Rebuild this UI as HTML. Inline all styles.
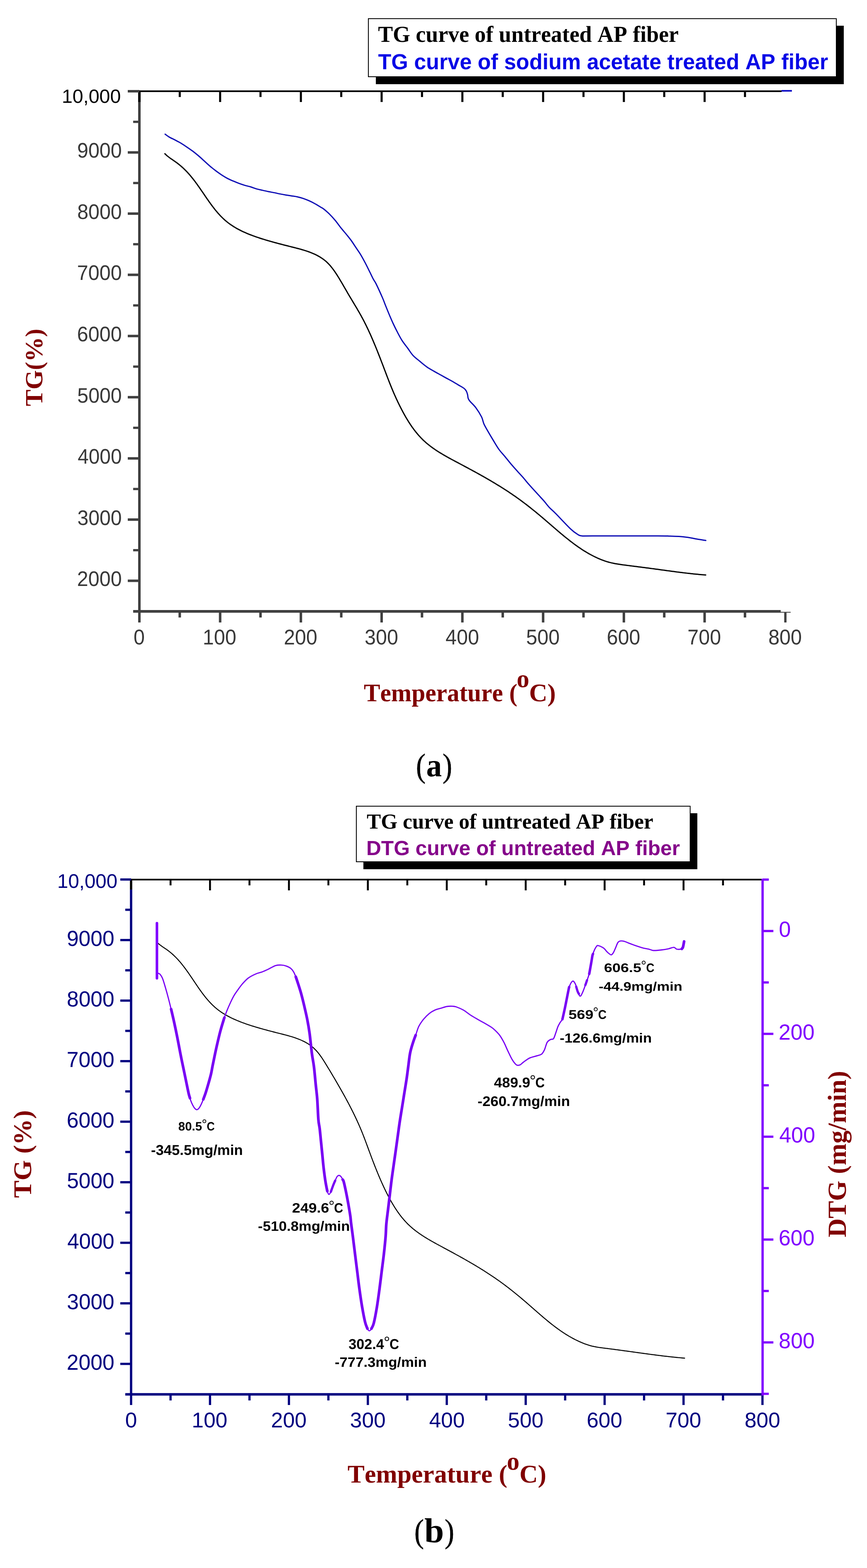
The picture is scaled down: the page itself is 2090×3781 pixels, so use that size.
<!DOCTYPE html>
<html><head><meta charset="utf-8"><title>TG / DTG curves of AP fiber</title>
<style>
html,body{margin:0;padding:0;background:#fff;}
svg{display:block;}
text{font-kerning:none;text-rendering:geometricPrecision;}
</style></head>
<body>
<svg width="2090" height="3781" viewBox="0 0 2090 3781">
<rect x="0" y="0" width="2090" height="3781" fill="#fff"/>
<rect x="906.00" y="62.00" width="1128.00" height="141.00" fill="#000"/>
<rect x="888.00" y="45.00" width="1128.00" height="140.00" fill="#fff" stroke="#000" stroke-width="2"/>
<text x="911.16" y="101.10" font-family="'Liberation Serif', 'Times New Roman', serif" font-weight="bold" font-size="55.30" textLength="724.80" lengthAdjust="spacingAndGlyphs" fill="#000">TG curve of untreated AP fiber</text>
<text x="911.42" y="166.80" font-family="'Liberation Sans', Arial, sans-serif" font-weight="bold" font-size="52.80" textLength="1084.87" lengthAdjust="spacingAndGlyphs" fill="#0808e6">TG curve of sodium acetate treated AP fiber</text>
<path d="M397.45,370.68 L399.75,372.94 L402.16,375.10 L404.65,377.16 L407.22,379.16 L409.85,381.09 L412.52,382.98 L415.21,384.85 L417.92,386.70 L420.62,388.55 L423.30,390.42 L425.94,392.33 L428.53,394.28 L431.08,396.27 L433.59,398.31 L436.05,400.38 L438.47,402.50 L440.85,404.66 L443.19,406.85 L445.49,409.08 L447.76,411.35 L449.99,413.66 L452.18,416.00 L454.35,418.37 L456.48,420.77 L458.58,423.21 L460.66,425.68 L462.71,428.18 L464.73,430.70 L466.73,433.26 L468.71,435.83 L470.67,438.43 L472.60,441.05 L474.53,443.68 L476.43,446.34 L478.33,449.01 L480.21,451.69 L482.08,454.38 L483.95,457.08 L485.81,459.79 L487.66,462.50 L489.51,465.21 L491.36,467.93 L493.21,470.65 L495.06,473.36 L496.92,476.07 L498.78,478.78 L500.65,481.47 L502.53,484.16 L504.42,486.83 L506.32,489.49 L508.23,492.14 L510.16,494.76 L512.11,497.37 L514.08,499.96 L516.07,502.52 L518.08,505.06 L520.11,507.57 L522.18,510.06 L524.27,512.51 L526.38,514.93 L528.53,517.31 L530.72,519.66 L532.94,521.97 L535.19,524.24 L537.48,526.47 L539.81,528.65 L542.19,530.79 L544.60,532.88 L547.06,534.93 L549.57,536.92 L552.13,538.85 L554.73,540.74 L557.37,542.58 L560.05,544.37 L562.77,546.12 L565.53,547.81 L568.32,549.47 L571.15,551.08 L574.01,552.64 L576.89,554.17 L579.81,555.66 L582.75,557.11 L585.72,558.52 L588.71,559.89 L591.72,561.23 L594.75,562.53 L597.79,563.81 L600.85,565.05 L603.92,566.26 L607.01,567.44 L610.10,568.59 L613.21,569.71 L616.31,570.81 L619.42,571.89 L622.54,572.94 L625.65,573.97 L628.77,574.98 L631.88,575.97 L634.98,576.94 L638.08,577.89 L641.17,578.82 L644.26,579.74 L647.35,580.64 L650.43,581.53 L653.52,582.41 L656.60,583.28 L659.68,584.13 L662.77,584.98 L665.85,585.81 L668.94,586.64 L672.03,587.45 L675.13,588.27 L678.23,589.07 L681.34,589.88 L684.45,590.68 L687.57,591.47 L690.70,592.27 L693.83,593.06 L696.98,593.86 L700.14,594.65 L703.31,595.45 L706.49,596.25 L709.67,597.06 L712.87,597.88 L716.07,598.71 L719.26,599.55 L722.46,600.42 L725.64,601.31 L728.82,602.22 L731.99,603.16 L735.15,604.14 L738.29,605.15 L741.40,606.19 L744.50,607.28 L747.57,608.42 L750.61,609.60 L753.62,610.83 L756.59,612.11 L759.53,613.45 L762.43,614.86 L765.29,616.32 L768.10,617.86 L770.86,619.46 L773.57,621.13 L776.23,622.88 L778.83,624.71 L781.37,626.62 L783.85,628.62 L786.26,630.71 L788.61,632.88 L790.90,635.13 L793.13,637.46 L795.30,639.85 L797.42,642.32 L799.48,644.84 L801.50,647.41 L803.48,650.03 L805.41,652.70 L807.30,655.40 L809.16,658.13 L810.98,660.89 L812.77,663.68 L814.53,666.47 L816.26,669.28 L817.98,672.09 L819.67,674.90 L821.34,677.71 L823.00,680.51 L824.65,683.31 L826.28,686.11 L827.91,688.91 L829.53,691.70 L831.14,694.49 L832.75,697.28 L834.36,700.07 L835.97,702.85 L837.59,705.64 L839.21,708.42 L840.84,711.20 L842.48,713.98 L844.13,716.75 L845.79,719.53 L847.45,722.31 L849.12,725.09 L850.79,727.87 L852.47,730.65 L854.14,733.44 L855.81,736.22 L857.48,739.02 L859.14,741.81 L860.79,744.61 L862.44,747.42 L864.08,750.24 L865.71,753.06 L867.32,755.88 L868.92,758.72 L870.51,761.56 L872.07,764.41 L873.62,767.28 L875.15,770.15 L876.66,773.03 L878.16,775.92 L879.63,778.82 L881.09,781.72 L882.53,784.64 L883.96,787.56 L885.37,790.49 L886.76,793.42 L888.14,796.36 L889.51,799.31 L890.86,802.27 L892.20,805.22 L893.53,808.19 L894.84,811.16 L896.14,814.13 L897.44,817.11 L898.72,820.09 L899.99,823.08 L901.25,826.07 L902.50,829.06 L903.74,832.05 L904.98,835.05 L906.20,838.05 L907.42,841.05 L908.63,844.05 L909.84,847.06 L911.04,850.07 L912.23,853.08 L913.42,856.10 L914.60,859.11 L915.78,862.13 L916.95,865.15 L918.12,868.18 L919.28,871.20 L920.45,874.23 L921.61,877.26 L922.77,880.30 L923.92,883.33 L925.08,886.37 L926.23,889.42 L927.38,892.46 L928.54,895.51 L929.69,898.56 L930.85,901.60 L932.00,904.65 L933.17,907.69 L934.33,910.74 L935.50,913.78 L936.68,916.81 L937.86,919.85 L939.05,922.87 L940.25,925.90 L941.45,928.91 L942.66,931.92 L943.89,934.92 L945.12,937.91 L946.37,940.89 L947.62,943.86 L948.89,946.82 L950.18,949.78 L951.47,952.73 L952.78,955.67 L954.11,958.61 L955.44,961.53 L956.80,964.46 L958.17,967.37 L959.56,970.29 L960.96,973.19 L962.38,976.10 L963.82,979.00 L965.28,981.89 L966.76,984.78 L968.25,987.67 L969.77,990.56 L971.31,993.44 L972.87,996.31 L974.45,999.18 L976.05,1002.04 L977.68,1004.88 L979.33,1007.72 L981.01,1010.54 L982.72,1013.34 L984.44,1016.13 L986.20,1018.90 L987.98,1021.65 L989.80,1024.38 L991.64,1027.08 L993.51,1029.77 L995.41,1032.43 L997.34,1035.06 L999.30,1037.66 L1001.30,1040.23 L1003.33,1042.77 L1005.39,1045.28 L1007.49,1047.76 L1009.62,1050.20 L1011.78,1052.60 L1013.99,1054.96 L1016.23,1057.29 L1018.50,1059.57 L1020.82,1061.81 L1023.17,1064.01 L1025.56,1066.16 L1027.99,1068.28 L1030.45,1070.35 L1032.94,1072.39 L1035.47,1074.39 L1038.03,1076.35 L1040.61,1078.28 L1043.23,1080.17 L1045.87,1082.04 L1048.53,1083.87 L1051.22,1085.68 L1053.93,1087.46 L1056.66,1089.21 L1059.41,1090.94 L1062.18,1092.65 L1064.97,1094.33 L1067.77,1096.00 L1070.59,1097.64 L1073.42,1099.27 L1076.26,1100.88 L1079.11,1102.48 L1081.97,1104.07 L1084.84,1105.64 L1087.71,1107.20 L1090.59,1108.75 L1093.47,1110.30 L1096.35,1111.84 L1099.23,1113.37 L1102.11,1114.90 L1104.99,1116.43 L1107.87,1117.96 L1110.74,1119.49 L1113.61,1121.01 L1116.48,1122.54 L1119.35,1124.07 L1122.21,1125.60 L1125.06,1127.13 L1127.92,1128.66 L1130.77,1130.20 L1133.62,1131.74 L1136.46,1133.28 L1139.31,1134.82 L1142.15,1136.37 L1144.98,1137.92 L1147.82,1139.48 L1150.65,1141.04 L1153.48,1142.61 L1156.30,1144.18 L1159.13,1145.76 L1161.95,1147.34 L1164.77,1148.93 L1167.58,1150.53 L1170.40,1152.14 L1173.21,1153.75 L1176.02,1155.37 L1178.83,1157.01 L1181.63,1158.64 L1184.43,1160.29 L1187.23,1161.95 L1190.02,1163.61 L1192.81,1165.29 L1195.59,1166.97 L1198.38,1168.66 L1201.15,1170.36 L1203.92,1172.08 L1206.69,1173.80 L1209.45,1175.53 L1212.20,1177.27 L1214.95,1179.02 L1217.69,1180.78 L1220.42,1182.55 L1223.15,1184.33 L1225.87,1186.12 L1228.58,1187.93 L1231.28,1189.74 L1233.98,1191.56 L1236.66,1193.40 L1239.34,1195.25 L1242.01,1197.10 L1244.67,1198.97 L1247.32,1200.86 L1249.96,1202.75 L1252.59,1204.65 L1255.21,1206.57 L1257.82,1208.50 L1260.43,1210.43 L1263.02,1212.38 L1265.60,1214.34 L1268.18,1216.31 L1270.75,1218.29 L1273.31,1220.28 L1275.86,1222.28 L1278.41,1224.28 L1280.95,1226.30 L1283.48,1228.33 L1286.00,1230.36 L1288.52,1232.40 L1291.03,1234.45 L1293.54,1236.51 L1296.04,1238.57 L1298.54,1240.64 L1301.03,1242.72 L1303.51,1244.80 L1306.00,1246.89 L1308.47,1248.99 L1310.95,1251.10 L1313.41,1253.20 L1315.88,1255.32 L1318.34,1257.44 L1320.80,1259.56 L1323.26,1261.68 L1325.72,1263.81 L1328.18,1265.93 L1330.64,1268.06 L1333.10,1270.19 L1335.56,1272.31 L1338.02,1274.43 L1340.49,1276.55 L1342.95,1278.67 L1345.43,1280.78 L1347.91,1282.89 L1350.39,1284.98 L1352.88,1287.08 L1355.37,1289.16 L1357.87,1291.24 L1360.38,1293.30 L1362.90,1295.36 L1365.43,1297.40 L1367.97,1299.43 L1370.51,1301.45 L1373.07,1303.46 L1375.64,1305.45 L1378.22,1307.43 L1380.81,1309.39 L1383.42,1311.33 L1386.04,1313.26 L1388.68,1315.17 L1391.33,1317.06 L1393.99,1318.92 L1396.67,1320.77 L1399.37,1322.59 L1402.08,1324.39 L1404.81,1326.17 L1407.55,1327.91 L1410.31,1329.63 L1413.09,1331.32 L1415.89,1332.98 L1418.70,1334.61 L1421.53,1336.20 L1424.38,1337.76 L1427.25,1339.28 L1430.13,1340.77 L1433.04,1342.22 L1435.96,1343.63 L1438.90,1345.00 L1441.86,1346.33 L1444.84,1347.61 L1447.84,1348.85 L1450.86,1350.05 L1453.90,1351.19 L1456.96,1352.29 L1460.04,1353.33 L1463.13,1354.32 L1466.24,1355.24 L1469.37,1356.11 L1472.51,1356.91 L1475.67,1357.64 L1478.84,1358.32 L1482.02,1358.95 L1485.21,1359.53 L1488.41,1360.08 L1491.62,1360.58 L1494.84,1361.06 L1498.05,1361.51 L1501.28,1361.95 L1504.50,1362.38 L1507.73,1362.80 L1510.95,1363.22 L1514.17,1363.63 L1517.40,1364.04 L1520.62,1364.46 L1523.85,1364.87 L1527.07,1365.28 L1530.29,1365.69 L1533.52,1366.10 L1536.74,1366.51 L1539.96,1366.92 L1543.18,1367.33 L1546.40,1367.74 L1549.63,1368.16 L1552.85,1368.57 L1556.07,1368.99 L1559.29,1369.41 L1562.51,1369.83 L1565.73,1370.26 L1568.95,1370.69 L1572.17,1371.12 L1575.39,1371.55 L1578.61,1371.99 L1581.82,1372.42 L1585.04,1372.86 L1588.26,1373.30 L1591.48,1373.74 L1594.70,1374.19 L1597.92,1374.63 L1601.14,1375.07 L1604.36,1375.51 L1607.58,1375.95 L1610.80,1376.38 L1614.02,1376.82 L1617.24,1377.25 L1620.46,1377.68 L1623.68,1378.11 L1626.90,1378.53 L1630.12,1378.95 L1633.34,1379.37 L1636.57,1379.78 L1639.79,1380.19 L1643.01,1380.59 L1646.24,1380.98 L1649.46,1381.37 L1652.69,1381.76 L1655.92,1382.13 L1659.14,1382.50 L1662.37,1382.86 L1665.60,1383.22 L1668.83,1383.56 L1672.07,1383.90 L1675.30,1384.23 L1678.53,1384.55 L1681.77,1384.86 L1685.00,1385.16 L1688.24,1385.45 L1691.48,1385.73 L1694.72,1386.00 L1697.96,1386.25 L1701.20,1386.50" fill="none" stroke="#000" stroke-width="3.0" stroke-linejoin="round" stroke-linecap="round"/>
<path d="M398.00,323.50 C399.68,324.68 404.08,328.25 408.10,330.60 C412.12,332.95 417.42,335.17 422.10,337.60 C426.78,340.03 431.52,342.40 436.20,345.20 C440.88,348.00 445.52,351.22 450.20,354.40 C454.88,357.58 459.62,360.78 464.30,364.30 C468.98,367.82 473.62,371.53 478.30,375.50 C482.98,379.47 487.72,383.88 492.40,388.10 C497.08,392.32 501.73,396.82 506.40,400.80 C511.07,404.78 515.72,408.48 520.40,412.00 C525.08,415.52 529.82,418.85 534.50,421.90 C539.18,424.95 543.82,427.83 548.50,430.30 C553.18,432.77 557.92,434.68 562.60,436.70 C567.28,438.72 571.92,440.67 576.60,442.40 C581.28,444.13 586.02,445.70 590.70,447.10 C595.38,448.50 600.02,449.38 604.70,450.80 C609.38,452.22 614.12,454.25 618.80,455.60 C623.48,456.95 628.12,457.83 632.80,458.90 C637.48,459.97 642.22,461.05 646.90,462.00 C651.58,462.95 656.23,463.67 660.90,464.60 C665.57,465.53 670.22,466.67 674.90,467.60 C679.58,468.53 684.32,469.40 689.00,470.20 C693.68,471.00 698.32,471.65 703.00,472.40 C707.68,473.15 712.42,473.67 717.10,474.70 C721.78,475.73 726.42,477.02 731.10,478.60 C735.78,480.18 740.52,482.10 745.20,484.20 C749.88,486.30 754.52,488.62 759.20,491.20 C763.88,493.78 769.83,497.60 773.30,499.70 C776.77,501.80 776.55,501.08 780.00,503.80 C783.45,506.52 789.32,511.38 794.00,516.00 C798.68,520.62 803.42,525.88 808.10,531.50 C812.78,537.12 817.42,543.85 822.10,549.70 C826.78,555.55 832.10,561.55 836.20,566.60 C840.30,571.65 843.07,574.95 846.70,580.00 C850.33,585.05 854.25,591.28 858.00,596.90 C861.75,602.52 865.47,607.53 869.20,613.70 C872.93,619.87 876.65,626.78 880.40,633.90 C884.15,641.02 888.43,649.83 891.70,656.40 C894.97,662.97 897.55,668.70 900.00,673.30 C902.45,677.90 902.73,676.55 906.40,684.00 C910.07,691.45 918.08,709.00 922.00,718.00 C925.92,727.00 927.08,731.00 929.90,738.00 C932.72,745.00 935.90,752.92 938.90,760.00 C941.90,767.08 944.72,773.68 947.90,780.50 C951.08,787.32 954.45,794.13 958.00,800.90 C961.55,807.67 965.02,814.58 969.20,821.10 C973.38,827.62 978.72,834.03 983.10,840.00 C987.48,845.97 990.62,851.65 995.50,856.90 C1000.38,862.15 1006.78,866.83 1012.40,871.50 C1018.02,876.17 1023.58,880.97 1029.20,884.90 C1034.82,888.83 1040.53,891.87 1046.10,895.10 C1051.67,898.33 1057.52,901.47 1062.60,904.30 C1067.68,907.13 1071.92,909.53 1076.60,912.10 C1081.28,914.67 1086.02,917.03 1090.70,919.70 C1095.38,922.37 1100.02,925.28 1104.70,928.10 C1109.38,930.92 1115.52,934.02 1118.80,936.60 C1122.08,939.18 1123.00,941.03 1124.40,943.60 C1125.80,946.17 1126.50,949.20 1127.20,952.00 C1127.90,954.80 1127.67,957.82 1128.60,960.40 C1129.53,962.98 1129.75,963.75 1132.80,967.50 C1135.85,971.25 1142.22,976.58 1146.90,982.90 C1151.58,989.22 1157.63,998.85 1160.90,1005.40 C1164.17,1011.95 1164.17,1016.82 1166.50,1022.20 C1168.83,1027.58 1171.15,1031.13 1174.90,1037.70 C1178.65,1044.27 1184.32,1053.88 1189.00,1061.60 C1193.68,1069.32 1198.35,1077.52 1203.00,1084.00 C1207.65,1090.48 1211.75,1094.28 1216.90,1100.50 C1222.05,1106.72 1228.63,1115.10 1233.90,1121.30 C1239.17,1127.50 1243.97,1132.65 1248.50,1137.70 C1253.03,1142.75 1256.88,1146.75 1261.10,1151.60 C1265.32,1156.45 1269.58,1161.95 1273.80,1166.80 C1278.02,1171.65 1282.20,1176.07 1286.40,1180.70 C1290.60,1185.33 1294.78,1189.97 1299.00,1194.60 C1303.22,1199.23 1307.48,1203.65 1311.70,1208.50 C1315.92,1213.35 1319.58,1218.65 1324.30,1223.70 C1329.02,1228.75 1331.45,1230.15 1340.00,1238.80 C1348.55,1247.45 1366.73,1267.23 1375.60,1275.60 C1384.47,1283.97 1388.68,1286.23 1393.20,1289.00 C1397.72,1291.77 1396.90,1291.67 1402.70,1292.20 C1408.50,1292.73 1397.45,1292.20 1428.00,1292.20 C1458.55,1292.20 1554.92,1292.10 1586.00,1292.20 C1617.08,1292.30 1605.55,1292.53 1614.50,1292.80 C1623.45,1293.07 1631.28,1293.12 1639.70,1293.80 C1648.12,1294.48 1658.15,1295.85 1665.00,1296.90 C1671.85,1297.95 1674.73,1299.03 1680.80,1300.10 C1686.87,1301.17 1697.97,1302.77 1701.40,1303.30" fill="none" stroke="#0b0bb4" stroke-width="3.0" stroke-linejoin="round" stroke-linecap="round"/>
<line x1="333.00" y1="220.00" x2="1884.00" y2="220.00" stroke="#000" stroke-width="4" stroke-linecap="butt"/>
<line x1="1884.00" y1="219.00" x2="1909.00" y2="219.00" stroke="#1414c8" stroke-width="4" stroke-linecap="butt"/>
<line x1="433.32" y1="222.00" x2="433.32" y2="234.00" stroke="#000" stroke-width="5" stroke-linecap="butt"/>
<line x1="530.65" y1="222.00" x2="530.65" y2="246.00" stroke="#000" stroke-width="5" stroke-linecap="butt"/>
<line x1="627.97" y1="222.00" x2="627.97" y2="234.00" stroke="#000" stroke-width="5" stroke-linecap="butt"/>
<line x1="725.30" y1="222.00" x2="725.30" y2="246.00" stroke="#000" stroke-width="5" stroke-linecap="butt"/>
<line x1="822.62" y1="222.00" x2="822.62" y2="234.00" stroke="#000" stroke-width="5" stroke-linecap="butt"/>
<line x1="919.95" y1="222.00" x2="919.95" y2="246.00" stroke="#000" stroke-width="5" stroke-linecap="butt"/>
<line x1="1017.27" y1="222.00" x2="1017.27" y2="234.00" stroke="#000" stroke-width="5" stroke-linecap="butt"/>
<line x1="1114.60" y1="222.00" x2="1114.60" y2="246.00" stroke="#000" stroke-width="5" stroke-linecap="butt"/>
<line x1="1211.92" y1="222.00" x2="1211.92" y2="234.00" stroke="#000" stroke-width="5" stroke-linecap="butt"/>
<line x1="1309.25" y1="222.00" x2="1309.25" y2="246.00" stroke="#000" stroke-width="5" stroke-linecap="butt"/>
<line x1="1406.58" y1="222.00" x2="1406.58" y2="234.00" stroke="#000" stroke-width="5" stroke-linecap="butt"/>
<line x1="1503.90" y1="222.00" x2="1503.90" y2="246.00" stroke="#000" stroke-width="5" stroke-linecap="butt"/>
<line x1="1601.22" y1="222.00" x2="1601.22" y2="234.00" stroke="#000" stroke-width="5" stroke-linecap="butt"/>
<line x1="1698.55" y1="222.00" x2="1698.55" y2="246.00" stroke="#000" stroke-width="5" stroke-linecap="butt"/>
<line x1="1795.88" y1="222.00" x2="1795.88" y2="234.00" stroke="#000" stroke-width="5" stroke-linecap="butt"/>
<line x1="336.00" y1="246.00" x2="336.00" y2="1477.50" stroke="#404040" stroke-width="6" stroke-linecap="butt"/>
<line x1="336.00" y1="218.00" x2="336.00" y2="246.00" stroke="#000" stroke-width="6" stroke-linecap="butt"/>
<line x1="308.00" y1="1400.48" x2="336.00" y2="1400.48" stroke="#404040" stroke-width="6" stroke-linecap="butt"/>
<line x1="321.00" y1="1326.70" x2="336.00" y2="1326.70" stroke="#404040" stroke-width="5.5" stroke-linecap="butt"/>
<line x1="308.00" y1="1252.92" x2="336.00" y2="1252.92" stroke="#404040" stroke-width="6" stroke-linecap="butt"/>
<line x1="321.00" y1="1179.14" x2="336.00" y2="1179.14" stroke="#404040" stroke-width="5.5" stroke-linecap="butt"/>
<line x1="308.00" y1="1105.36" x2="336.00" y2="1105.36" stroke="#404040" stroke-width="6" stroke-linecap="butt"/>
<line x1="321.00" y1="1031.58" x2="336.00" y2="1031.58" stroke="#404040" stroke-width="5.5" stroke-linecap="butt"/>
<line x1="308.00" y1="957.80" x2="336.00" y2="957.80" stroke="#404040" stroke-width="6" stroke-linecap="butt"/>
<line x1="321.00" y1="884.02" x2="336.00" y2="884.02" stroke="#404040" stroke-width="5.5" stroke-linecap="butt"/>
<line x1="308.00" y1="810.24" x2="336.00" y2="810.24" stroke="#404040" stroke-width="6" stroke-linecap="butt"/>
<line x1="321.00" y1="736.46" x2="336.00" y2="736.46" stroke="#404040" stroke-width="5.5" stroke-linecap="butt"/>
<line x1="308.00" y1="662.68" x2="336.00" y2="662.68" stroke="#404040" stroke-width="6" stroke-linecap="butt"/>
<line x1="321.00" y1="588.90" x2="336.00" y2="588.90" stroke="#404040" stroke-width="5.5" stroke-linecap="butt"/>
<line x1="308.00" y1="515.12" x2="336.00" y2="515.12" stroke="#404040" stroke-width="6" stroke-linecap="butt"/>
<line x1="321.00" y1="441.34" x2="336.00" y2="441.34" stroke="#404040" stroke-width="5.5" stroke-linecap="butt"/>
<line x1="308.00" y1="367.56" x2="336.00" y2="367.56" stroke="#404040" stroke-width="6" stroke-linecap="butt"/>
<line x1="321.00" y1="293.78" x2="336.00" y2="293.78" stroke="#404040" stroke-width="5.5" stroke-linecap="butt"/>
<line x1="308.00" y1="220.00" x2="336.00" y2="220.00" stroke="#404040" stroke-width="6" stroke-linecap="butt"/>
<line x1="321.00" y1="1474.30" x2="1882.00" y2="1474.30" stroke="#404040" stroke-width="6.5" stroke-linecap="butt"/>
<line x1="1882.00" y1="1476.40" x2="1906.00" y2="1476.40" stroke="#404040" stroke-width="2" stroke-linecap="butt"/>
<line x1="336.00" y1="1477.00" x2="336.00" y2="1501.00" stroke="#404040" stroke-width="6" stroke-linecap="butt"/>
<line x1="433.32" y1="1477.00" x2="433.32" y2="1489.00" stroke="#404040" stroke-width="6" stroke-linecap="butt"/>
<line x1="530.65" y1="1477.00" x2="530.65" y2="1501.00" stroke="#404040" stroke-width="6" stroke-linecap="butt"/>
<line x1="627.97" y1="1477.00" x2="627.97" y2="1489.00" stroke="#404040" stroke-width="6" stroke-linecap="butt"/>
<line x1="725.30" y1="1477.00" x2="725.30" y2="1501.00" stroke="#404040" stroke-width="6" stroke-linecap="butt"/>
<line x1="822.62" y1="1477.00" x2="822.62" y2="1489.00" stroke="#404040" stroke-width="6" stroke-linecap="butt"/>
<line x1="919.95" y1="1477.00" x2="919.95" y2="1501.00" stroke="#404040" stroke-width="6" stroke-linecap="butt"/>
<line x1="1017.27" y1="1477.00" x2="1017.27" y2="1489.00" stroke="#404040" stroke-width="6" stroke-linecap="butt"/>
<line x1="1114.60" y1="1477.00" x2="1114.60" y2="1501.00" stroke="#404040" stroke-width="6" stroke-linecap="butt"/>
<line x1="1211.92" y1="1477.00" x2="1211.92" y2="1489.00" stroke="#404040" stroke-width="6" stroke-linecap="butt"/>
<line x1="1309.25" y1="1477.00" x2="1309.25" y2="1501.00" stroke="#404040" stroke-width="6" stroke-linecap="butt"/>
<line x1="1406.58" y1="1477.00" x2="1406.58" y2="1489.00" stroke="#404040" stroke-width="6" stroke-linecap="butt"/>
<line x1="1503.90" y1="1477.00" x2="1503.90" y2="1501.00" stroke="#404040" stroke-width="6" stroke-linecap="butt"/>
<line x1="1601.22" y1="1477.00" x2="1601.22" y2="1489.00" stroke="#404040" stroke-width="6" stroke-linecap="butt"/>
<line x1="1698.55" y1="1477.00" x2="1698.55" y2="1501.00" stroke="#404040" stroke-width="6" stroke-linecap="butt"/>
<line x1="1795.88" y1="1477.00" x2="1795.88" y2="1489.00" stroke="#404040" stroke-width="6" stroke-linecap="butt"/>
<line x1="1893.20" y1="1477.00" x2="1893.20" y2="1501.00" stroke="#404040" stroke-width="5.6" stroke-linecap="butt"/>
<text x="148.95" y="247.60" font-family="'Liberation Sans', Arial, sans-serif" font-weight="normal" font-size="46.20" textLength="142.36" lengthAdjust="spacingAndGlyphs" fill="#000">10,000</text>
<text x="185.86" y="1413.28" font-family="'Liberation Sans', Arial, sans-serif" font-weight="normal" font-size="50.70" textLength="107.73" lengthAdjust="spacingAndGlyphs" fill="#383838">2000</text>
<text x="186.47" y="1265.72" font-family="'Liberation Sans', Arial, sans-serif" font-weight="normal" font-size="50.70" textLength="107.11" lengthAdjust="spacingAndGlyphs" fill="#383838">3000</text>
<text x="187.20" y="1118.16" font-family="'Liberation Sans', Arial, sans-serif" font-weight="normal" font-size="50.70" textLength="106.36" lengthAdjust="spacingAndGlyphs" fill="#383838">4000</text>
<text x="186.37" y="970.60" font-family="'Liberation Sans', Arial, sans-serif" font-weight="normal" font-size="50.70" textLength="107.21" lengthAdjust="spacingAndGlyphs" fill="#383838">5000</text>
<text x="185.84" y="823.04" font-family="'Liberation Sans', Arial, sans-serif" font-weight="normal" font-size="50.70" textLength="107.75" lengthAdjust="spacingAndGlyphs" fill="#383838">6000</text>
<text x="185.82" y="675.48" font-family="'Liberation Sans', Arial, sans-serif" font-weight="normal" font-size="50.70" textLength="107.78" lengthAdjust="spacingAndGlyphs" fill="#383838">7000</text>
<text x="186.20" y="527.92" font-family="'Liberation Sans', Arial, sans-serif" font-weight="normal" font-size="50.70" textLength="107.38" lengthAdjust="spacingAndGlyphs" fill="#383838">8000</text>
<text x="186.03" y="380.36" font-family="'Liberation Sans', Arial, sans-serif" font-weight="normal" font-size="50.70" textLength="107.55" lengthAdjust="spacingAndGlyphs" fill="#383838">9000</text>
<text x="322.04" y="1553.80" font-family="'Liberation Sans', Arial, sans-serif" font-weight="normal" font-size="51.50" textLength="26.92" lengthAdjust="spacingAndGlyphs" fill="#383838">0</text>
<text x="488.87" y="1553.80" font-family="'Liberation Sans', Arial, sans-serif" font-weight="normal" font-size="51.50" textLength="80.77" lengthAdjust="spacingAndGlyphs" fill="#383838">100</text>
<text x="684.14" y="1553.80" font-family="'Liberation Sans', Arial, sans-serif" font-weight="normal" font-size="51.50" textLength="80.77" lengthAdjust="spacingAndGlyphs" fill="#383838">200</text>
<text x="879.09" y="1553.80" font-family="'Liberation Sans', Arial, sans-serif" font-weight="normal" font-size="51.50" textLength="80.77" lengthAdjust="spacingAndGlyphs" fill="#383838">300</text>
<text x="1074.11" y="1553.80" font-family="'Liberation Sans', Arial, sans-serif" font-weight="normal" font-size="51.50" textLength="80.77" lengthAdjust="spacingAndGlyphs" fill="#383838">400</text>
<text x="1268.34" y="1553.80" font-family="'Liberation Sans', Arial, sans-serif" font-weight="normal" font-size="51.50" textLength="80.77" lengthAdjust="spacingAndGlyphs" fill="#383838">500</text>
<text x="1462.73" y="1553.80" font-family="'Liberation Sans', Arial, sans-serif" font-weight="normal" font-size="51.50" textLength="80.77" lengthAdjust="spacingAndGlyphs" fill="#383838">600</text>
<text x="1657.37" y="1553.80" font-family="'Liberation Sans', Arial, sans-serif" font-weight="normal" font-size="51.50" textLength="80.77" lengthAdjust="spacingAndGlyphs" fill="#383838">700</text>
<text x="1852.21" y="1553.80" font-family="'Liberation Sans', Arial, sans-serif" font-weight="normal" font-size="51.50" textLength="80.77" lengthAdjust="spacingAndGlyphs" fill="#383838">800</text>
<text x="877.07" y="1691.00" font-family="'Liberation Serif', 'Times New Roman', serif" font-weight="bold" font-size="61.00" textLength="370.13" lengthAdjust="spacingAndGlyphs" fill="#800000">Temperature (</text>
<text x="1245.58" y="1657.20" font-family="'Liberation Serif', 'Times New Roman', serif" font-weight="bold" font-size="61.00" textLength="30.44" lengthAdjust="spacingAndGlyphs" fill="#800000">o</text>
<text x="1275.52" y="1691.00" font-family="'Liberation Serif', 'Times New Roman', serif" font-weight="bold" font-size="61.00" textLength="64.36" lengthAdjust="spacingAndGlyphs" fill="#800000">C)</text>
<text transform="rotate(-90)" x="-979.44" y="102.00" font-family="'Liberation Serif', 'Times New Roman', serif" font-weight="bold" font-size="59.60" textLength="187.08" lengthAdjust="spacingAndGlyphs" fill="#800000">TG(%)</text>
<text x="1002.72" y="1872.90" font-family="'Liberation Serif', 'Times New Roman', serif" font-weight="normal" font-size="80.50" textLength="23.34" lengthAdjust="spacingAndGlyphs" fill="#000" stroke="#000" stroke-width="0.6">(</text>
<text x="1027.48" y="1872.00" font-family="'Liberation Serif', 'Times New Roman', serif" font-weight="bold" font-size="79.00" textLength="37.56" lengthAdjust="spacingAndGlyphs" fill="#000">a</text>
<text x="1066.74" y="1872.90" font-family="'Liberation Serif', 'Times New Roman', serif" font-weight="normal" font-size="80.50" textLength="23.34" lengthAdjust="spacingAndGlyphs" fill="#000" stroke="#000" stroke-width="0.6">)</text>
<rect x="876.00" y="1961.00" width="805.00" height="135.00" fill="#000"/>
<rect x="859.00" y="1944.00" width="804.70" height="134.00" fill="#fff" stroke="#000" stroke-width="2"/>
<text x="884.00" y="1998.00" font-family="'Liberation Serif', 'Times New Roman', serif" font-weight="bold" font-size="51.50" textLength="690.80" lengthAdjust="spacingAndGlyphs" fill="#000">TG curve of untreated AP fiber</text>
<text x="882.98" y="2061.60" font-family="'Liberation Sans', Arial, sans-serif" font-weight="bold" font-size="49.40" textLength="756.07" lengthAdjust="spacingAndGlyphs" fill="#85068a">DTG curve of untreated AP fiber</text>
<path d="M381.34,2274.86 L383.71,2276.91 L386.18,2278.87 L388.73,2280.76 L391.34,2282.61 L393.98,2284.42 L396.65,2286.22 L399.31,2288.02 L401.95,2289.85 L404.54,2291.71 L407.08,2293.63 L409.58,2295.59 L412.02,2297.59 L414.42,2299.64 L416.77,2301.73 L419.08,2303.86 L421.34,2306.03 L423.57,2308.24 L425.76,2310.48 L427.91,2312.77 L430.03,2315.08 L432.12,2317.43 L434.17,2319.82 L436.20,2322.23 L438.20,2324.67 L440.17,2327.14 L442.12,2329.63 L444.05,2332.15 L445.96,2334.69 L447.85,2337.26 L449.72,2339.84 L451.58,2342.43 L453.42,2345.05 L455.25,2347.67 L457.07,2350.31 L458.89,2352.96 L460.69,2355.61 L462.49,2358.28 L464.28,2360.94 L466.08,2363.61 L467.87,2366.28 L469.66,2368.95 L471.46,2371.61 L473.26,2374.27 L475.06,2376.93 L476.87,2379.58 L478.70,2382.21 L480.53,2384.84 L482.37,2387.45 L484.23,2390.05 L486.11,2392.62 L488.00,2395.18 L489.91,2397.72 L491.85,2400.24 L493.80,2402.73 L495.78,2405.20 L497.78,2407.64 L499.81,2410.05 L501.88,2412.43 L503.97,2414.77 L506.09,2417.08 L508.25,2419.35 L510.44,2421.59 L512.67,2423.78 L514.94,2425.93 L517.24,2428.04 L519.59,2430.10 L521.99,2432.11 L524.43,2434.08 L526.91,2435.99 L529.44,2437.86 L532.01,2439.67 L534.62,2441.45 L537.27,2443.17 L539.95,2444.85 L542.67,2446.49 L545.43,2448.09 L548.21,2449.64 L551.02,2451.16 L553.86,2452.63 L556.73,2454.07 L559.62,2455.47 L562.53,2456.84 L565.47,2458.17 L568.42,2459.47 L571.39,2460.73 L574.37,2461.97 L577.37,2463.17 L580.37,2464.35 L583.39,2465.50 L586.42,2466.62 L589.45,2467.71 L592.48,2468.78 L595.52,2469.83 L598.56,2470.85 L601.60,2471.86 L604.63,2472.84 L607.66,2473.81 L610.69,2474.75 L613.71,2475.68 L616.73,2476.59 L619.74,2477.49 L622.75,2478.38 L625.76,2479.25 L628.77,2480.11 L631.78,2480.95 L634.79,2481.79 L637.80,2482.62 L640.82,2483.43 L643.84,2484.24 L646.86,2485.05 L649.89,2485.85 L652.92,2486.64 L655.97,2487.43 L659.02,2488.22 L662.07,2489.00 L665.14,2489.79 L668.22,2490.57 L671.30,2491.35 L674.40,2492.14 L677.52,2492.93 L680.64,2493.73 L683.76,2494.53 L686.90,2495.35 L690.03,2496.18 L693.16,2497.03 L696.28,2497.90 L699.40,2498.80 L702.51,2499.72 L705.60,2500.68 L708.67,2501.67 L711.73,2502.69 L714.76,2503.76 L717.77,2504.87 L720.75,2506.03 L723.70,2507.23 L726.61,2508.49 L729.49,2509.80 L732.33,2511.18 L735.12,2512.61 L737.87,2514.11 L740.57,2515.68 L743.22,2517.32 L745.81,2519.03 L748.35,2520.82 L750.82,2522.69 L753.23,2524.65 L755.58,2526.69 L757.86,2528.82 L760.07,2531.03 L762.23,2533.31 L764.33,2535.66 L766.37,2538.08 L768.37,2540.56 L770.32,2543.09 L772.23,2545.66 L774.10,2548.28 L775.93,2550.93 L777.73,2553.61 L779.50,2556.32 L781.24,2559.05 L782.96,2561.79 L784.66,2564.54 L786.35,2567.29 L788.02,2570.04 L789.69,2572.78 L791.34,2575.52 L792.99,2578.25 L794.62,2580.97 L796.25,2583.69 L797.88,2586.41 L799.50,2589.12 L801.11,2591.83 L802.71,2594.55 L804.32,2597.26 L805.91,2599.97 L807.51,2602.69 L809.10,2605.41 L810.69,2608.13 L812.28,2610.86 L813.86,2613.59 L815.44,2616.33 L817.02,2619.07 L818.60,2621.82 L820.17,2624.57 L821.74,2627.32 L823.30,2630.08 L824.86,2632.84 L826.41,2635.61 L827.95,2638.39 L829.50,2641.16 L831.03,2643.95 L832.56,2646.73 L834.08,2649.53 L835.60,2652.32 L837.10,2655.12 L838.60,2657.93 L840.09,2660.74 L841.58,2663.56 L843.05,2666.38 L844.51,2669.20 L845.97,2672.03 L847.41,2674.87 L848.85,2677.71 L850.27,2680.56 L851.69,2683.41 L853.09,2686.26 L854.48,2689.13 L855.86,2691.99 L857.23,2694.86 L858.58,2697.74 L859.92,2700.62 L861.25,2703.51 L862.56,2706.40 L863.87,2709.30 L865.15,2712.20 L866.42,2715.11 L867.68,2718.02 L868.92,2720.94 L870.15,2723.87 L871.36,2726.80 L872.56,2729.73 L873.74,2732.67 L874.91,2735.62 L876.06,2738.57 L877.21,2741.52 L878.35,2744.48 L879.47,2747.44 L880.59,2750.41 L881.70,2753.37 L882.81,2756.35 L883.91,2759.32 L885.01,2762.29 L886.11,2765.27 L887.21,2768.25 L888.30,2771.23 L889.40,2774.22 L890.50,2777.20 L891.60,2780.18 L892.71,2783.17 L893.82,2786.15 L894.94,2789.14 L896.06,2792.12 L897.19,2795.10 L898.32,2798.08 L899.46,2801.06 L900.61,2804.03 L901.76,2807.01 L902.92,2809.97 L904.08,2812.94 L905.25,2815.89 L906.43,2818.85 L907.62,2821.79 L908.81,2824.73 L910.01,2827.67 L911.21,2830.59 L912.43,2833.51 L913.65,2836.42 L914.88,2839.33 L916.12,2842.22 L917.37,2845.12 L918.63,2848.00 L919.91,2850.88 L921.19,2853.75 L922.50,2856.62 L923.81,2859.49 L925.14,2862.35 L926.49,2865.20 L927.85,2868.05 L929.23,2870.90 L930.63,2873.74 L932.04,2876.58 L933.48,2879.42 L934.94,2882.25 L936.41,2885.08 L937.91,2887.91 L939.43,2890.72 L940.97,2893.53 L942.54,2896.33 L944.13,2899.11 L945.75,2901.89 L947.38,2904.65 L949.05,2907.39 L950.74,2910.12 L952.46,2912.83 L954.21,2915.51 L955.98,2918.18 L957.79,2920.83 L959.62,2923.45 L961.48,2926.04 L963.37,2928.61 L965.30,2931.15 L967.26,2933.67 L969.24,2936.15 L971.27,2938.59 L973.32,2941.01 L975.41,2943.39 L977.54,2945.73 L979.70,2948.04 L981.90,2950.31 L984.13,2952.53 L986.40,2954.72 L988.71,2956.86 L991.05,2958.96 L993.43,2961.02 L995.84,2963.05 L998.29,2965.04 L1000.76,2966.99 L1003.26,2968.91 L1005.79,2970.80 L1008.35,2972.65 L1010.93,2974.48 L1013.54,2976.28 L1016.16,2978.05 L1018.81,2979.79 L1021.48,2981.52 L1024.17,2983.21 L1026.88,2984.89 L1029.60,2986.54 L1032.33,2988.18 L1035.08,2989.80 L1037.84,2991.40 L1040.62,2992.99 L1043.40,2994.56 L1046.19,2996.12 L1048.98,2997.67 L1051.79,2999.21 L1054.59,3000.74 L1057.40,3002.27 L1060.21,3003.79 L1063.02,3005.30 L1065.83,3006.81 L1068.64,3008.32 L1071.45,3009.83 L1074.25,3011.34 L1077.05,3012.85 L1079.84,3014.36 L1082.63,3015.87 L1085.42,3017.38 L1088.21,3018.89 L1090.99,3020.40 L1093.78,3021.92 L1096.55,3023.44 L1099.33,3024.96 L1102.10,3026.48 L1104.87,3028.01 L1107.64,3029.54 L1110.40,3031.08 L1113.17,3032.62 L1115.92,3034.17 L1118.68,3035.72 L1121.44,3037.28 L1124.19,3038.85 L1126.94,3040.42 L1129.68,3042.00 L1132.43,3043.59 L1135.17,3045.19 L1137.91,3046.79 L1140.64,3048.40 L1143.38,3050.02 L1146.11,3051.65 L1148.83,3053.29 L1151.55,3054.94 L1154.27,3056.59 L1156.99,3058.26 L1159.69,3059.93 L1162.40,3061.62 L1165.10,3063.31 L1167.79,3065.01 L1170.48,3066.72 L1173.16,3068.44 L1175.83,3070.17 L1178.50,3071.92 L1181.16,3073.67 L1183.82,3075.43 L1186.47,3077.20 L1189.11,3078.98 L1191.74,3080.77 L1194.36,3082.57 L1196.98,3084.39 L1199.58,3086.21 L1202.18,3088.05 L1204.77,3089.89 L1207.35,3091.75 L1209.92,3093.62 L1212.48,3095.50 L1215.03,3097.39 L1217.57,3099.29 L1220.10,3101.20 L1222.62,3103.12 L1225.14,3105.05 L1227.65,3106.99 L1230.15,3108.94 L1232.64,3110.91 L1235.12,3112.87 L1237.60,3114.85 L1240.07,3116.84 L1242.53,3118.83 L1244.99,3120.84 L1247.44,3122.85 L1249.88,3124.87 L1252.32,3126.90 L1254.76,3128.93 L1257.19,3130.97 L1259.61,3133.02 L1262.03,3135.08 L1264.44,3137.14 L1266.85,3139.21 L1269.26,3141.28 L1271.66,3143.36 L1274.06,3145.45 L1276.45,3147.54 L1278.85,3149.63 L1281.24,3151.73 L1283.63,3153.83 L1286.02,3155.93 L1288.41,3158.03 L1290.81,3160.13 L1293.20,3162.22 L1295.60,3164.32 L1298.00,3166.41 L1300.40,3168.50 L1302.81,3170.58 L1305.22,3172.66 L1307.63,3174.73 L1310.05,3176.79 L1312.48,3178.85 L1314.92,3180.89 L1317.36,3182.93 L1319.81,3184.96 L1322.27,3186.97 L1324.74,3188.97 L1327.22,3190.96 L1329.71,3192.94 L1332.21,3194.90 L1334.73,3196.84 L1337.25,3198.77 L1339.79,3200.68 L1342.35,3202.57 L1344.91,3204.44 L1347.50,3206.29 L1350.09,3208.13 L1352.70,3209.94 L1355.33,3211.72 L1357.98,3213.49 L1360.64,3215.22 L1363.31,3216.94 L1366.00,3218.62 L1368.71,3220.28 L1371.44,3221.91 L1374.18,3223.51 L1376.94,3225.08 L1379.72,3226.61 L1382.52,3228.12 L1385.33,3229.59 L1388.16,3231.03 L1391.01,3232.43 L1393.88,3233.79 L1396.77,3235.12 L1399.68,3236.41 L1402.61,3237.65 L1405.56,3238.86 L1408.52,3240.02 L1411.51,3241.14 L1414.51,3242.19 L1417.53,3243.19 L1420.57,3244.13 L1423.62,3245.00 L1426.69,3245.80 L1429.78,3246.52 L1432.88,3247.18 L1435.99,3247.79 L1439.11,3248.34 L1442.25,3248.85 L1445.38,3249.32 L1448.53,3249.76 L1451.68,3250.18 L1454.83,3250.58 L1457.99,3250.98 L1461.14,3251.38 L1464.30,3251.77 L1467.45,3252.17 L1470.61,3252.58 L1473.76,3252.99 L1476.91,3253.40 L1480.06,3253.81 L1483.21,3254.22 L1486.36,3254.64 L1489.51,3255.06 L1492.66,3255.48 L1495.81,3255.91 L1498.96,3256.33 L1502.11,3256.76 L1505.26,3257.19 L1508.41,3257.62 L1511.55,3258.05 L1514.70,3258.48 L1517.85,3258.92 L1521.00,3259.35 L1524.14,3259.79 L1527.29,3260.22 L1530.44,3260.66 L1533.59,3261.10 L1536.73,3261.53 L1539.88,3261.97 L1543.03,3262.40 L1546.18,3262.84 L1549.33,3263.27 L1552.48,3263.70 L1555.62,3264.13 L1558.77,3264.56 L1561.92,3264.98 L1565.07,3265.40 L1568.22,3265.82 L1571.37,3266.24 L1574.52,3266.65 L1577.68,3267.06 L1580.83,3267.47 L1583.98,3267.87 L1587.13,3268.27 L1590.29,3268.66 L1593.44,3269.05 L1596.59,3269.44 L1599.75,3269.82 L1602.91,3270.19 L1606.06,3270.56 L1609.22,3270.92 L1612.38,3271.27 L1615.54,3271.62 L1618.70,3271.97 L1621.86,3272.30 L1625.02,3272.63 L1628.18,3272.95 L1631.34,3273.26 L1634.51,3273.57 L1637.67,3273.87 L1640.84,3274.15 L1644.00,3274.43 L1647.17,3274.71 L1650.34,3274.97" fill="none" stroke="#000" stroke-width="2.4" stroke-linejoin="round" stroke-linecap="round"/>
<path d="M381.60,2347.10 C382.38,2347.57 384.57,2347.78 386.30,2349.90 C388.03,2352.02 389.88,2354.42 392.00,2359.80 C394.12,2365.18 396.67,2374.25 399.00,2382.20 C401.33,2390.15 403.67,2398.60 406.00,2407.50 C408.33,2416.40 410.65,2425.77 413.00,2435.60 C415.35,2445.43 417.75,2455.73 420.10,2466.50 C422.45,2477.27 424.77,2488.50 427.10,2500.20 C429.43,2511.90 432.12,2526.55 434.10,2536.70 C436.08,2546.85 437.30,2552.83 439.00,2561.10 C440.70,2569.37 442.55,2577.88 444.30,2586.30 C446.05,2594.72 447.75,2603.17 449.50,2611.60 C451.25,2620.03 453.22,2630.22 454.80,2636.90 C456.38,2643.58 457.42,2647.13 459.00,2651.70 C460.58,2656.27 462.53,2660.80 464.30,2664.30 C466.07,2667.80 467.85,2670.77 469.60,2672.70 C471.35,2674.63 473.05,2676.07 474.80,2675.90 C476.55,2675.73 478.33,2673.98 480.10,2671.70 C481.87,2669.42 483.65,2665.90 485.40,2662.20 C487.15,2658.50 488.85,2654.07 490.60,2649.50 C492.35,2644.93 493.97,2640.77 495.90,2634.80 C497.83,2628.83 500.10,2621.07 502.20,2613.70 C504.30,2606.33 506.78,2597.88 508.50,2590.60 C510.22,2583.32 511.08,2577.10 512.50,2570.00 C513.92,2562.90 515.32,2556.00 517.00,2548.00 C518.68,2540.00 520.27,2532.17 522.60,2522.00 C524.93,2511.83 528.20,2497.58 531.00,2487.00 C533.80,2476.42 536.82,2466.60 539.40,2458.50 C541.98,2450.40 543.68,2445.48 546.50,2438.40 C549.32,2431.32 553.30,2422.40 556.30,2416.00 C559.30,2409.60 561.73,2404.72 564.50,2400.00 C567.27,2395.28 569.68,2392.18 572.90,2387.70 C576.12,2383.22 579.55,2377.97 583.80,2373.10 C588.05,2368.23 592.92,2362.60 598.40,2358.50 C603.88,2354.40 611.22,2350.93 616.70,2348.50 C622.18,2346.07 626.43,2345.73 631.30,2343.90 C636.17,2342.07 640.42,2340.08 645.90,2337.50 C651.38,2334.92 658.72,2330.13 664.20,2328.40 C669.68,2326.67 674.55,2326.95 678.80,2327.10 C683.05,2327.25 686.05,2328.02 689.70,2329.30 C693.35,2330.58 697.65,2332.37 700.70,2334.80 C703.75,2337.23 705.87,2340.25 708.00,2343.90 C710.13,2347.55 711.68,2351.83 713.50,2356.70 C715.32,2361.57 716.78,2366.40 718.90,2373.10 C721.02,2379.80 723.77,2388.07 726.20,2396.90 C728.63,2405.73 731.07,2415.77 733.50,2426.10 C735.93,2436.43 738.67,2447.95 740.80,2458.90 C742.93,2469.85 744.47,2478.28 746.30,2491.80 C748.13,2505.32 750.03,2526.47 751.80,2540.00 C753.57,2553.53 755.35,2560.47 756.90,2573.00 C758.45,2585.53 759.80,2602.37 761.10,2615.20 C762.40,2628.03 763.63,2635.87 764.70,2650.00 C765.77,2664.13 766.52,2688.15 767.50,2700.00 C768.48,2711.85 769.55,2712.32 770.60,2721.10 C771.65,2729.88 772.73,2742.17 773.80,2752.70 C774.87,2763.23 775.95,2773.77 777.00,2784.30 C778.05,2794.83 778.88,2805.37 780.10,2815.90 C781.32,2826.43 782.88,2838.38 784.30,2847.50 C785.72,2856.62 787.18,2865.17 788.60,2870.60 C790.02,2876.03 791.23,2879.75 792.80,2880.10 C794.37,2880.45 796.25,2876.38 798.00,2872.70 C799.75,2869.02 801.53,2862.55 803.30,2858.00 C805.07,2853.45 807.02,2848.92 808.60,2845.40 C810.18,2841.88 811.23,2838.73 812.80,2836.90 C814.37,2835.07 816.25,2834.05 818.00,2834.40 C819.75,2834.75 821.53,2836.47 823.30,2839.00 C825.07,2841.53 826.85,2843.98 828.60,2849.60 C830.35,2855.22 832.05,2864.28 833.80,2872.70 C835.55,2881.12 837.33,2890.27 839.10,2900.10 C840.87,2909.93 843.18,2923.38 844.40,2931.70 C845.62,2940.02 845.37,2941.68 846.40,2950.00 C847.43,2958.32 849.03,2969.32 850.60,2981.60 C852.17,2993.88 854.05,3009.65 855.80,3023.70 C857.55,3037.75 859.33,3051.85 861.10,3065.90 C862.87,3079.95 864.47,3093.97 866.40,3108.00 C868.33,3122.03 870.42,3136.75 872.70,3150.10 C874.98,3163.45 878.00,3179.32 880.10,3188.10 C882.20,3196.88 883.55,3199.30 885.30,3202.80 C887.05,3206.30 888.83,3209.10 890.60,3209.10 C892.37,3209.10 894.15,3205.95 895.90,3202.80 C897.65,3199.65 899.00,3198.63 901.10,3190.20 C903.20,3181.77 906.22,3165.90 908.50,3152.20 C910.78,3138.50 912.87,3122.38 914.80,3108.00 C916.73,3093.62 918.33,3079.95 920.10,3065.90 C921.87,3051.85 923.82,3037.75 925.40,3023.70 C926.98,3009.65 928.62,2993.70 929.60,2981.60 C930.58,2969.50 930.32,2962.03 931.30,2951.10 C932.28,2940.17 934.10,2927.70 935.50,2916.00 C936.90,2904.30 938.30,2892.60 939.70,2880.90 C941.10,2869.20 942.38,2857.50 943.90,2845.80 C945.42,2834.10 947.15,2822.40 948.80,2810.70 C950.45,2799.00 952.15,2787.32 953.80,2775.60 C955.45,2763.88 957.07,2752.12 958.70,2740.40 C960.33,2728.68 961.85,2717.00 963.60,2705.30 C965.35,2693.60 967.33,2681.90 969.20,2670.20 C971.07,2658.50 972.93,2646.80 974.80,2635.10 C976.67,2623.40 978.87,2610.35 980.40,2600.00 C981.93,2589.65 982.63,2583.12 984.00,2573.00 C985.37,2562.88 986.67,2549.13 988.60,2539.30 C990.53,2529.47 993.27,2521.48 995.60,2514.00 C997.93,2506.52 1000.25,2500.95 1002.60,2494.40 C1004.95,2487.85 1006.65,2480.78 1009.70,2474.70 C1012.75,2468.62 1016.70,2463.05 1020.90,2457.90 C1025.10,2452.75 1030.22,2447.55 1034.90,2443.80 C1039.58,2440.05 1044.32,2437.50 1049.00,2435.40 C1053.68,2433.30 1058.32,2432.60 1063.00,2431.20 C1067.68,2429.80 1072.42,2427.80 1077.10,2427.00 C1081.78,2426.20 1087.28,2426.23 1091.10,2426.40 C1094.92,2426.57 1095.70,2426.47 1100.00,2428.00 C1104.30,2429.53 1111.28,2432.37 1116.90,2435.60 C1122.52,2438.83 1128.08,2443.75 1133.70,2447.40 C1139.32,2451.05 1144.98,2454.27 1150.60,2457.50 C1156.22,2460.73 1161.78,2463.57 1167.40,2466.80 C1173.02,2470.03 1180.08,2474.08 1184.30,2476.90 C1188.52,2479.72 1189.33,2480.47 1192.70,2483.70 C1196.07,2486.93 1200.85,2491.38 1204.50,2496.30 C1208.15,2501.22 1211.23,2506.73 1214.60,2513.20 C1217.97,2519.67 1221.33,2528.08 1224.70,2535.10 C1228.07,2542.12 1231.42,2549.83 1234.80,2555.30 C1238.18,2560.77 1241.90,2565.80 1245.00,2567.90 C1248.10,2570.00 1250.60,2569.02 1253.40,2567.90 C1256.20,2566.78 1257.87,2564.00 1261.80,2561.20 C1265.73,2558.40 1271.67,2553.63 1277.00,2551.10 C1282.33,2548.57 1289.03,2547.55 1293.80,2546.00 C1298.57,2544.45 1302.50,2544.18 1305.60,2541.80 C1308.70,2539.42 1310.15,2536.47 1312.40,2531.70 C1314.65,2526.93 1316.58,2517.42 1319.10,2513.20 C1321.62,2508.98 1324.97,2507.82 1327.50,2506.40 C1330.03,2504.98 1332.22,2507.43 1334.30,2504.70 C1336.38,2501.97 1338.23,2494.85 1340.00,2490.00 C1341.77,2485.15 1343.23,2479.60 1344.90,2475.60 C1346.57,2471.60 1348.12,2469.27 1350.00,2466.00 C1351.88,2462.73 1354.23,2461.88 1356.20,2456.00 C1358.17,2450.12 1359.93,2439.60 1361.80,2430.70 C1363.67,2421.80 1365.77,2410.80 1367.40,2402.60 C1369.03,2394.40 1369.48,2387.58 1371.60,2381.50 C1373.72,2375.42 1377.52,2367.50 1380.10,2366.10 C1382.68,2364.70 1385.00,2368.90 1387.10,2373.10 C1389.20,2377.30 1390.83,2386.48 1392.70,2391.30 C1394.57,2396.12 1396.43,2401.52 1398.30,2402.00 C1400.17,2402.48 1401.55,2399.25 1403.90,2394.20 C1406.25,2389.15 1409.58,2379.67 1412.40,2371.70 C1415.22,2363.73 1418.62,2355.02 1420.80,2346.40 C1422.98,2337.78 1424.27,2327.08 1425.50,2320.00 C1426.73,2312.92 1426.98,2308.72 1428.20,2303.90 C1429.42,2299.08 1431.12,2294.82 1432.80,2291.10 C1434.48,2287.38 1436.78,2283.42 1438.30,2281.60 C1439.82,2279.78 1439.47,2279.68 1441.90,2280.20 C1444.33,2280.72 1450.17,2283.18 1452.90,2284.70 C1455.63,2286.22 1456.48,2287.47 1458.30,2289.30 C1460.12,2291.13 1461.37,2293.52 1463.80,2295.70 C1466.23,2297.88 1470.47,2302.10 1472.90,2302.40 C1475.33,2302.70 1476.57,2300.30 1478.40,2297.50 C1480.23,2294.70 1482.07,2289.70 1483.90,2285.60 C1485.73,2281.50 1487.57,2275.63 1489.40,2272.90 C1491.23,2270.17 1492.47,2269.75 1494.90,2269.20 C1497.33,2268.65 1500.67,2268.83 1504.00,2269.60 C1507.33,2270.37 1510.65,2272.18 1514.90,2273.80 C1519.15,2275.42 1524.02,2277.38 1529.50,2279.30 C1534.98,2281.22 1541.70,2283.63 1547.80,2285.30 C1553.90,2286.97 1561.53,2288.18 1566.10,2289.30 C1570.67,2290.42 1570.63,2291.75 1575.20,2292.00 C1579.77,2292.25 1587.42,2291.50 1593.50,2290.80 C1599.58,2290.10 1606.53,2288.87 1611.70,2287.80 C1616.87,2286.73 1621.15,2284.22 1624.50,2284.40 C1627.85,2284.58 1628.60,2288.33 1631.80,2288.90 C1635.00,2289.47 1641.27,2288.65 1643.70,2287.80 C1646.13,2286.95 1645.50,2286.75 1646.40,2283.80 C1647.30,2280.85 1648.65,2272.38 1649.10,2270.10" fill="none" stroke="#7800f4" stroke-width="2.9" stroke-linejoin="round" stroke-linecap="round"/>
<path d="M413.00,2435.60 C413.00,2435.60 411.82,2430.45 413.00,2435.60 C414.18,2440.75 417.75,2455.73 420.10,2466.50 C422.45,2477.27 424.77,2488.50 427.10,2500.20 C429.43,2511.90 432.12,2526.55 434.10,2536.70 C436.08,2546.85 437.30,2552.83 439.00,2561.10 C440.70,2569.37 442.55,2577.88 444.30,2586.30 C446.05,2594.72 447.75,2603.17 449.50,2611.60 C451.25,2620.03 453.38,2630.80 454.80,2636.90 C456.22,2643.00 457.47,2646.30 458.00,2648.18" fill="none" stroke="#7800f4" stroke-width="6.5" stroke-linejoin="round" stroke-linecap="round"/>
<path d="M490.00,2650.97 C490.10,2650.72 489.62,2652.19 490.60,2649.50 C491.58,2646.81 493.97,2640.77 495.90,2634.80 C497.83,2628.83 500.10,2621.07 502.20,2613.70 C504.30,2606.33 506.78,2597.88 508.50,2590.60 C510.22,2583.32 511.08,2577.10 512.50,2570.00 C513.92,2562.90 515.32,2556.00 517.00,2548.00 C518.68,2540.00 520.27,2532.17 522.60,2522.00 C524.93,2511.83 528.20,2497.58 531.00,2487.00 C533.80,2476.42 537.73,2464.00 539.40,2458.50 C541.07,2453.00 540.73,2454.73 541.00,2453.97" fill="none" stroke="#7800f4" stroke-width="6.5" stroke-linejoin="round" stroke-linecap="round"/>
<path d="M713.00,2355.54 C713.08,2355.73 712.52,2353.77 713.50,2356.70 C714.48,2359.63 716.78,2366.40 718.90,2373.10 C721.02,2379.80 723.77,2388.07 726.20,2396.90 C728.63,2405.73 731.07,2415.77 733.50,2426.10 C735.93,2436.43 738.67,2447.95 740.80,2458.90 C742.93,2469.85 744.47,2478.28 746.30,2491.80 C748.13,2505.32 750.03,2526.47 751.80,2540.00 C753.57,2553.53 755.35,2560.47 756.90,2573.00 C758.45,2585.53 759.80,2602.37 761.10,2615.20 C762.40,2628.03 763.63,2635.87 764.70,2650.00 C765.77,2664.13 766.52,2688.15 767.50,2700.00 C768.48,2711.85 769.55,2712.32 770.60,2721.10 C771.65,2729.88 772.73,2742.17 773.80,2752.70 C774.87,2763.23 775.95,2773.77 777.00,2784.30 C778.05,2794.83 778.88,2805.37 780.10,2815.90 C781.32,2826.43 782.88,2838.38 784.30,2847.50 C785.72,2856.62 787.82,2866.60 788.60,2870.60 C789.38,2874.60 788.93,2871.35 789.00,2871.50" fill="none" stroke="#7800f4" stroke-width="6.5" stroke-linejoin="round" stroke-linecap="round"/>
<path d="M798.00,2872.70 C798.00,2872.70 797.12,2875.15 798.00,2872.70 C798.88,2870.25 801.63,2862.31 803.30,2858.00 C804.97,2853.69 807.22,2848.69 808.00,2846.83" fill="none" stroke="#7800f4" stroke-width="5.5" stroke-linejoin="round" stroke-linecap="round"/>
<path d="M826.00,2844.40 C826.43,2845.27 827.30,2844.88 828.60,2849.60 C829.90,2854.32 832.05,2864.28 833.80,2872.70 C835.55,2881.12 837.33,2890.27 839.10,2900.10 C840.87,2909.93 843.18,2923.38 844.40,2931.70 C845.62,2940.02 845.37,2941.68 846.40,2950.00 C847.43,2958.32 849.03,2969.32 850.60,2981.60 C852.17,2993.88 854.05,3009.65 855.80,3023.70 C857.55,3037.75 859.33,3051.85 861.10,3065.90 C862.87,3079.95 864.47,3093.97 866.40,3108.00 C868.33,3122.03 870.42,3136.75 872.70,3150.10 C874.98,3163.45 878.00,3179.32 880.10,3188.10 C882.20,3196.88 884.40,3200.31 885.30,3202.80 C886.20,3205.29 885.47,3203.00 885.50,3203.04" fill="none" stroke="#7800f4" stroke-width="6.5" stroke-linejoin="round" stroke-linecap="round"/>
<path d="M895.50,3203.28 C895.57,3203.20 894.97,3204.98 895.90,3202.80 C896.83,3200.62 899.00,3198.63 901.10,3190.20 C903.20,3181.77 906.22,3165.90 908.50,3152.20 C910.78,3138.50 912.87,3122.38 914.80,3108.00 C916.73,3093.62 918.33,3079.95 920.10,3065.90 C921.87,3051.85 923.82,3037.75 925.40,3023.70 C926.98,3009.65 928.62,2993.70 929.60,2981.60 C930.58,2969.50 930.32,2962.03 931.30,2951.10 C932.28,2940.17 934.10,2927.70 935.50,2916.00 C936.90,2904.30 938.30,2892.60 939.70,2880.90 C941.10,2869.20 942.38,2857.50 943.90,2845.80 C945.42,2834.10 947.15,2822.40 948.80,2810.70 C950.45,2799.00 952.15,2787.32 953.80,2775.60 C955.45,2763.88 957.07,2752.12 958.70,2740.40 C960.33,2728.68 961.85,2717.00 963.60,2705.30 C965.35,2693.60 967.33,2681.90 969.20,2670.20 C971.07,2658.50 972.93,2646.80 974.80,2635.10 C976.67,2623.40 978.87,2610.35 980.40,2600.00 C981.93,2589.65 982.63,2583.12 984.00,2573.00 C985.37,2562.88 986.67,2549.13 988.60,2539.30 C990.53,2529.47 993.37,2521.20 995.60,2514.00 C997.83,2506.80 1000.93,2499.07 1002.00,2496.08" fill="none" stroke="#7800f4" stroke-width="6.5" stroke-linejoin="round" stroke-linecap="round"/>
<path d="M1356.00,2456.32 C1356.03,2456.27 1355.23,2460.27 1356.20,2456.00 C1357.17,2451.73 1359.93,2439.60 1361.80,2430.70 C1363.67,2421.80 1365.77,2410.80 1367.40,2402.60 C1369.03,2394.40 1370.83,2385.14 1371.60,2381.50 C1372.37,2377.86 1371.93,2380.90 1372.00,2380.78" fill="none" stroke="#7800f4" stroke-width="6" stroke-linejoin="round" stroke-linecap="round"/>
<path d="M1389.00,2379.28 C1389.62,2381.28 1391.62,2388.40 1392.70,2391.30 C1393.78,2394.20 1395.03,2395.76 1395.50,2396.65" fill="none" stroke="#7800f4" stroke-width="5.5" stroke-linejoin="round" stroke-linecap="round"/>
<path d="M1411.00,2375.41 C1411.23,2374.79 1411.73,2373.62 1412.40,2371.70 C1413.07,2369.78 1414.57,2365.17 1415.00,2363.87" fill="none" stroke="#7800f4" stroke-width="5.5" stroke-linejoin="round" stroke-linecap="round"/>
<path d="M1420.50,2347.30 C1420.55,2347.15 1419.97,2350.95 1420.80,2346.40 C1421.63,2341.85 1424.27,2327.08 1425.50,2320.00 C1426.73,2312.92 1427.53,2307.19 1428.20,2303.90 C1428.87,2300.61 1429.28,2300.89 1429.50,2300.28" fill="none" stroke="#7800f4" stroke-width="6" stroke-linejoin="round" stroke-linecap="round"/>
<path d="M1643.70,2287.80 C1643.70,2287.80 1643.25,2288.47 1643.70,2287.80 C1644.15,2287.13 1645.50,2286.75 1646.40,2283.80 C1647.30,2280.85 1648.65,2272.38 1649.10,2270.10" fill="none" stroke="#7800f4" stroke-width="6.5" stroke-linejoin="round" stroke-linecap="round"/>
<line x1="378.30" y1="2226.00" x2="378.30" y2="2359.00" stroke="#8000ff" stroke-width="6.2" stroke-linecap="round"/>
<line x1="316.00" y1="2121.00" x2="1838.00" y2="2121.00" stroke="#000" stroke-width="4.2" stroke-linecap="butt"/>
<line x1="411.12" y1="2123.00" x2="411.12" y2="2135.00" stroke="#000" stroke-width="4.6" stroke-linecap="butt"/>
<line x1="506.25" y1="2123.00" x2="506.25" y2="2147.00" stroke="#000" stroke-width="4.6" stroke-linecap="butt"/>
<line x1="601.38" y1="2123.00" x2="601.38" y2="2135.00" stroke="#000" stroke-width="4.6" stroke-linecap="butt"/>
<line x1="696.50" y1="2123.00" x2="696.50" y2="2147.00" stroke="#000" stroke-width="4.6" stroke-linecap="butt"/>
<line x1="791.62" y1="2123.00" x2="791.62" y2="2135.00" stroke="#000" stroke-width="4.6" stroke-linecap="butt"/>
<line x1="886.75" y1="2123.00" x2="886.75" y2="2147.00" stroke="#000" stroke-width="4.6" stroke-linecap="butt"/>
<line x1="981.88" y1="2123.00" x2="981.88" y2="2135.00" stroke="#000" stroke-width="4.6" stroke-linecap="butt"/>
<line x1="1077.00" y1="2123.00" x2="1077.00" y2="2147.00" stroke="#000" stroke-width="4.6" stroke-linecap="butt"/>
<line x1="1172.12" y1="2123.00" x2="1172.12" y2="2135.00" stroke="#000" stroke-width="4.6" stroke-linecap="butt"/>
<line x1="1267.25" y1="2123.00" x2="1267.25" y2="2147.00" stroke="#000" stroke-width="4.6" stroke-linecap="butt"/>
<line x1="1362.38" y1="2123.00" x2="1362.38" y2="2135.00" stroke="#000" stroke-width="4.6" stroke-linecap="butt"/>
<line x1="1457.50" y1="2123.00" x2="1457.50" y2="2147.00" stroke="#000" stroke-width="4.6" stroke-linecap="butt"/>
<line x1="1552.62" y1="2123.00" x2="1552.62" y2="2135.00" stroke="#000" stroke-width="4.6" stroke-linecap="butt"/>
<line x1="1647.75" y1="2123.00" x2="1647.75" y2="2147.00" stroke="#000" stroke-width="4.6" stroke-linecap="butt"/>
<line x1="1742.88" y1="2123.00" x2="1742.88" y2="2135.00" stroke="#000" stroke-width="4.6" stroke-linecap="butt"/>
<line x1="316.00" y1="2145.00" x2="316.00" y2="3365.00" stroke="#000080" stroke-width="5.6" stroke-linecap="butt"/>
<line x1="316.00" y1="2119.00" x2="316.00" y2="2145.00" stroke="#000" stroke-width="5.6" stroke-linecap="butt"/>
<line x1="290.00" y1="3288.80" x2="316.00" y2="3288.80" stroke="#000080" stroke-width="5.4" stroke-linecap="butt"/>
<line x1="302.00" y1="3215.80" x2="316.00" y2="3215.80" stroke="#000080" stroke-width="5.4" stroke-linecap="butt"/>
<line x1="290.00" y1="3142.80" x2="316.00" y2="3142.80" stroke="#000080" stroke-width="5.4" stroke-linecap="butt"/>
<line x1="302.00" y1="3069.80" x2="316.00" y2="3069.80" stroke="#000080" stroke-width="5.4" stroke-linecap="butt"/>
<line x1="290.00" y1="2996.80" x2="316.00" y2="2996.80" stroke="#000080" stroke-width="5.4" stroke-linecap="butt"/>
<line x1="302.00" y1="2923.80" x2="316.00" y2="2923.80" stroke="#000080" stroke-width="5.4" stroke-linecap="butt"/>
<line x1="290.00" y1="2850.80" x2="316.00" y2="2850.80" stroke="#000080" stroke-width="5.4" stroke-linecap="butt"/>
<line x1="302.00" y1="2777.80" x2="316.00" y2="2777.80" stroke="#000080" stroke-width="5.4" stroke-linecap="butt"/>
<line x1="290.00" y1="2704.80" x2="316.00" y2="2704.80" stroke="#000080" stroke-width="5.4" stroke-linecap="butt"/>
<line x1="302.00" y1="2631.80" x2="316.00" y2="2631.80" stroke="#000080" stroke-width="5.4" stroke-linecap="butt"/>
<line x1="290.00" y1="2558.80" x2="316.00" y2="2558.80" stroke="#000080" stroke-width="5.4" stroke-linecap="butt"/>
<line x1="302.00" y1="2485.80" x2="316.00" y2="2485.80" stroke="#000080" stroke-width="5.4" stroke-linecap="butt"/>
<line x1="290.00" y1="2412.80" x2="316.00" y2="2412.80" stroke="#000080" stroke-width="5.4" stroke-linecap="butt"/>
<line x1="302.00" y1="2339.80" x2="316.00" y2="2339.80" stroke="#000080" stroke-width="5.4" stroke-linecap="butt"/>
<line x1="290.00" y1="2266.80" x2="316.00" y2="2266.80" stroke="#000080" stroke-width="5.4" stroke-linecap="butt"/>
<line x1="302.00" y1="2193.80" x2="316.00" y2="2193.80" stroke="#000080" stroke-width="5.4" stroke-linecap="butt"/>
<line x1="290.00" y1="2120.80" x2="316.00" y2="2120.80" stroke="#000080" stroke-width="5.4" stroke-linecap="butt"/>
<line x1="302.00" y1="3362.20" x2="1838.00" y2="3362.20" stroke="#000080" stroke-width="6" stroke-linecap="butt"/>
<line x1="316.00" y1="3365.00" x2="316.00" y2="3388.00" stroke="#000080" stroke-width="5.4" stroke-linecap="butt"/>
<line x1="411.12" y1="3365.00" x2="411.12" y2="3377.00" stroke="#000080" stroke-width="5.4" stroke-linecap="butt"/>
<line x1="506.25" y1="3365.00" x2="506.25" y2="3388.00" stroke="#000080" stroke-width="5.4" stroke-linecap="butt"/>
<line x1="601.38" y1="3365.00" x2="601.38" y2="3377.00" stroke="#000080" stroke-width="5.4" stroke-linecap="butt"/>
<line x1="696.50" y1="3365.00" x2="696.50" y2="3388.00" stroke="#000080" stroke-width="5.4" stroke-linecap="butt"/>
<line x1="791.62" y1="3365.00" x2="791.62" y2="3377.00" stroke="#000080" stroke-width="5.4" stroke-linecap="butt"/>
<line x1="886.75" y1="3365.00" x2="886.75" y2="3388.00" stroke="#000080" stroke-width="5.4" stroke-linecap="butt"/>
<line x1="981.88" y1="3365.00" x2="981.88" y2="3377.00" stroke="#000080" stroke-width="5.4" stroke-linecap="butt"/>
<line x1="1077.00" y1="3365.00" x2="1077.00" y2="3388.00" stroke="#000080" stroke-width="5.4" stroke-linecap="butt"/>
<line x1="1172.12" y1="3365.00" x2="1172.12" y2="3377.00" stroke="#000080" stroke-width="5.4" stroke-linecap="butt"/>
<line x1="1267.25" y1="3365.00" x2="1267.25" y2="3388.00" stroke="#000080" stroke-width="5.4" stroke-linecap="butt"/>
<line x1="1362.38" y1="3365.00" x2="1362.38" y2="3377.00" stroke="#000080" stroke-width="5.4" stroke-linecap="butt"/>
<line x1="1457.50" y1="3365.00" x2="1457.50" y2="3388.00" stroke="#000080" stroke-width="5.4" stroke-linecap="butt"/>
<line x1="1552.62" y1="3365.00" x2="1552.62" y2="3377.00" stroke="#000080" stroke-width="5.4" stroke-linecap="butt"/>
<line x1="1647.75" y1="3365.00" x2="1647.75" y2="3388.00" stroke="#000080" stroke-width="5.4" stroke-linecap="butt"/>
<line x1="1742.88" y1="3365.00" x2="1742.88" y2="3377.00" stroke="#000080" stroke-width="5.4" stroke-linecap="butt"/>
<line x1="1838.00" y1="3365.00" x2="1838.00" y2="3388.00" stroke="#000080" stroke-width="5.4" stroke-linecap="butt"/>
<line x1="1838.30" y1="2119.00" x2="1838.30" y2="3365.00" stroke="#8000ff" stroke-width="5.6" stroke-linecap="butt"/>
<line x1="1838.30" y1="2121.00" x2="1853.30" y2="2121.00" stroke="#8000ff" stroke-width="5.4" stroke-linecap="butt"/>
<line x1="1838.30" y1="2245.00" x2="1864.30" y2="2245.00" stroke="#8000ff" stroke-width="5.4" stroke-linecap="butt"/>
<line x1="1838.30" y1="2369.00" x2="1853.30" y2="2369.00" stroke="#8000ff" stroke-width="5.4" stroke-linecap="butt"/>
<line x1="1838.30" y1="2493.00" x2="1864.30" y2="2493.00" stroke="#8000ff" stroke-width="5.4" stroke-linecap="butt"/>
<line x1="1838.30" y1="2617.00" x2="1853.30" y2="2617.00" stroke="#8000ff" stroke-width="5.4" stroke-linecap="butt"/>
<line x1="1838.30" y1="2741.00" x2="1864.30" y2="2741.00" stroke="#8000ff" stroke-width="5.4" stroke-linecap="butt"/>
<line x1="1838.30" y1="2865.00" x2="1853.30" y2="2865.00" stroke="#8000ff" stroke-width="5.4" stroke-linecap="butt"/>
<line x1="1838.30" y1="2989.00" x2="1864.30" y2="2989.00" stroke="#8000ff" stroke-width="5.4" stroke-linecap="butt"/>
<line x1="1838.30" y1="3113.00" x2="1853.30" y2="3113.00" stroke="#8000ff" stroke-width="5.4" stroke-linecap="butt"/>
<line x1="1838.30" y1="3237.00" x2="1864.30" y2="3237.00" stroke="#8000ff" stroke-width="5.4" stroke-linecap="butt"/>
<line x1="1838.30" y1="3361.00" x2="1853.30" y2="3361.00" stroke="#8000ff" stroke-width="5.4" stroke-linecap="butt"/>
<text x="138.09" y="2140.60" font-family="'Liberation Sans', Arial, sans-serif" font-weight="normal" font-size="47.60" textLength="144.96" lengthAdjust="spacingAndGlyphs" fill="#000080">10,000</text>
<text x="160.70" y="3302.60" font-family="'Liberation Sans', Arial, sans-serif" font-weight="normal" font-size="52.80" textLength="115.02" lengthAdjust="spacingAndGlyphs" fill="#000080">2000</text>
<text x="161.34" y="3156.60" font-family="'Liberation Sans', Arial, sans-serif" font-weight="normal" font-size="52.80" textLength="114.37" lengthAdjust="spacingAndGlyphs" fill="#000080">3000</text>
<text x="162.13" y="3010.60" font-family="'Liberation Sans', Arial, sans-serif" font-weight="normal" font-size="52.80" textLength="113.57" lengthAdjust="spacingAndGlyphs" fill="#000080">4000</text>
<text x="161.24" y="2864.60" font-family="'Liberation Sans', Arial, sans-serif" font-weight="normal" font-size="52.80" textLength="114.47" lengthAdjust="spacingAndGlyphs" fill="#000080">5000</text>
<text x="160.67" y="2718.60" font-family="'Liberation Sans', Arial, sans-serif" font-weight="normal" font-size="52.80" textLength="115.05" lengthAdjust="spacingAndGlyphs" fill="#000080">6000</text>
<text x="160.65" y="2572.60" font-family="'Liberation Sans', Arial, sans-serif" font-weight="normal" font-size="52.80" textLength="115.07" lengthAdjust="spacingAndGlyphs" fill="#000080">7000</text>
<text x="161.06" y="2426.60" font-family="'Liberation Sans', Arial, sans-serif" font-weight="normal" font-size="52.80" textLength="114.65" lengthAdjust="spacingAndGlyphs" fill="#000080">8000</text>
<text x="160.88" y="2280.60" font-family="'Liberation Sans', Arial, sans-serif" font-weight="normal" font-size="52.80" textLength="114.84" lengthAdjust="spacingAndGlyphs" fill="#000080">9000</text>
<text x="301.68" y="3441.50" font-family="'Liberation Sans', Arial, sans-serif" font-weight="normal" font-size="51.50" textLength="28.64" lengthAdjust="spacingAndGlyphs" fill="#000080">0</text>
<text x="462.33" y="3441.50" font-family="'Liberation Sans', Arial, sans-serif" font-weight="normal" font-size="51.50" textLength="85.93" lengthAdjust="spacingAndGlyphs" fill="#000080">100</text>
<text x="653.25" y="3441.50" font-family="'Liberation Sans', Arial, sans-serif" font-weight="normal" font-size="51.50" textLength="85.93" lengthAdjust="spacingAndGlyphs" fill="#000080">200</text>
<text x="843.81" y="3441.50" font-family="'Liberation Sans', Arial, sans-serif" font-weight="normal" font-size="51.50" textLength="85.93" lengthAdjust="spacingAndGlyphs" fill="#000080">300</text>
<text x="1034.45" y="3441.50" font-family="'Liberation Sans', Arial, sans-serif" font-weight="normal" font-size="51.50" textLength="85.93" lengthAdjust="spacingAndGlyphs" fill="#000080">400</text>
<text x="1224.26" y="3441.50" font-family="'Liberation Sans', Arial, sans-serif" font-weight="normal" font-size="51.50" textLength="85.93" lengthAdjust="spacingAndGlyphs" fill="#000080">500</text>
<text x="1414.24" y="3441.50" font-family="'Liberation Sans', Arial, sans-serif" font-weight="normal" font-size="51.50" textLength="85.93" lengthAdjust="spacingAndGlyphs" fill="#000080">600</text>
<text x="1604.47" y="3441.50" font-family="'Liberation Sans', Arial, sans-serif" font-weight="normal" font-size="51.50" textLength="85.93" lengthAdjust="spacingAndGlyphs" fill="#000080">700</text>
<text x="1794.92" y="3441.50" font-family="'Liberation Sans', Arial, sans-serif" font-weight="normal" font-size="51.50" textLength="85.93" lengthAdjust="spacingAndGlyphs" fill="#000080">800</text>
<text x="1877.57" y="2258.90" font-family="'Liberation Sans', Arial, sans-serif" font-weight="normal" font-size="53.00" textLength="28.89" lengthAdjust="spacingAndGlyphs" fill="#8000ff">0</text>
<text x="1876.99" y="2506.90" font-family="'Liberation Sans', Arial, sans-serif" font-weight="normal" font-size="53.00" textLength="86.66" lengthAdjust="spacingAndGlyphs" fill="#8000ff">200</text>
<text x="1878.41" y="2754.90" font-family="'Liberation Sans', Arial, sans-serif" font-weight="normal" font-size="53.00" textLength="86.66" lengthAdjust="spacingAndGlyphs" fill="#8000ff">400</text>
<text x="1876.96" y="3002.90" font-family="'Liberation Sans', Arial, sans-serif" font-weight="normal" font-size="53.00" textLength="86.66" lengthAdjust="spacingAndGlyphs" fill="#8000ff">600</text>
<text x="1877.34" y="3250.90" font-family="'Liberation Sans', Arial, sans-serif" font-weight="normal" font-size="53.00" textLength="86.66" lengthAdjust="spacingAndGlyphs" fill="#8000ff">800</text>
<text x="837.84" y="3575.20" font-family="'Liberation Serif', 'Times New Roman', serif" font-weight="bold" font-size="61.50" textLength="385.25" lengthAdjust="spacingAndGlyphs" fill="#800000">Temperature (</text>
<text x="1221.87" y="3544.20" font-family="'Liberation Serif', 'Times New Roman', serif" font-weight="bold" font-size="61.50" textLength="30.55" lengthAdjust="spacingAndGlyphs" fill="#800000">o</text>
<text x="1252.31" y="3575.20" font-family="'Liberation Serif', 'Times New Roman', serif" font-weight="bold" font-size="61.50" textLength="64.69" lengthAdjust="spacingAndGlyphs" fill="#800000">C)</text>
<text transform="rotate(-90)" x="-2888.58" y="74.80" font-family="'Liberation Serif', 'Times New Roman', serif" font-weight="bold" font-size="61.50" textLength="211.45" lengthAdjust="spacingAndGlyphs" fill="#800000">TG (%)</text>
<text transform="rotate(-90)" x="-2983.61" y="2039.10" font-family="'Liberation Serif', 'Times New Roman', serif" font-weight="bold" font-size="63.00" textLength="401.38" lengthAdjust="spacingAndGlyphs" fill="#800000">DTG (mg/min)</text>
<text x="998.72" y="3718.80" font-family="'Liberation Serif', 'Times New Roman', serif" font-weight="normal" font-size="80.30" textLength="23.34" lengthAdjust="spacingAndGlyphs" fill="#000" stroke="#000" stroke-width="0.6">(</text>
<text x="1023.02" y="3719.00" font-family="'Liberation Serif', 'Times New Roman', serif" font-weight="bold" font-size="83.70" textLength="47.22" lengthAdjust="spacingAndGlyphs" fill="#000">b</text>
<text x="1071.64" y="3718.80" font-family="'Liberation Serif', 'Times New Roman', serif" font-weight="normal" font-size="80.30" textLength="23.34" lengthAdjust="spacingAndGlyphs" fill="#000" stroke="#000" stroke-width="0.6">)</text>
<text x="429.87" y="2725.60" font-family="'Liberation Sans', Arial, sans-serif" font-weight="bold" font-size="29.29" textLength="57.10" lengthAdjust="spacingAndGlyphs" fill="#000">80.5</text>
<text x="486.22" y="2722.18" font-family="'Liberation Sans', Arial, sans-serif" font-weight="normal" font-size="32.62" textLength="12.95" lengthAdjust="spacingAndGlyphs" fill="#000">°</text>
<text x="498.33" y="2725.60" font-family="'Liberation Sans', Arial, sans-serif" font-weight="bold" font-size="29.29" textLength="19.41" lengthAdjust="spacingAndGlyphs" fill="#000">C</text>
<text x="363.95" y="2785.40" font-family="'Liberation Sans', Arial, sans-serif" font-weight="bold" font-size="34.57" textLength="221.50" lengthAdjust="spacingAndGlyphs" fill="#000">-345.5mg/min</text>
<text x="704.06" y="2924.40" font-family="'Liberation Sans', Arial, sans-serif" font-weight="bold" font-size="33.14" textLength="89.37" lengthAdjust="spacingAndGlyphs" fill="#000">249.6</text>
<text x="791.96" y="2921.28" font-family="'Liberation Sans', Arial, sans-serif" font-weight="normal" font-size="36.92" textLength="14.66" lengthAdjust="spacingAndGlyphs" fill="#000">°</text>
<text x="805.37" y="2924.40" font-family="'Liberation Sans', Arial, sans-serif" font-weight="bold" font-size="33.14" textLength="21.96" lengthAdjust="spacingAndGlyphs" fill="#000">C</text>
<text x="621.85" y="2967.60" font-family="'Liberation Sans', Arial, sans-serif" font-weight="bold" font-size="33.14" textLength="221.50" lengthAdjust="spacingAndGlyphs" fill="#000">-510.8mg/min</text>
<text x="840.32" y="3252.70" font-family="'Liberation Sans', Arial, sans-serif" font-weight="bold" font-size="34.71" textLength="85.28" lengthAdjust="spacingAndGlyphs" fill="#000">302.4</text>
<text x="925.12" y="3249.70" font-family="'Liberation Sans', Arial, sans-serif" font-weight="normal" font-size="38.67" textLength="15.35" lengthAdjust="spacingAndGlyphs" fill="#000">°</text>
<text x="939.06" y="3252.70" font-family="'Liberation Sans', Arial, sans-serif" font-weight="bold" font-size="34.71" textLength="23.01" lengthAdjust="spacingAndGlyphs" fill="#000">C</text>
<text x="807.05" y="3295.90" font-family="'Liberation Sans', Arial, sans-serif" font-weight="bold" font-size="33.14" textLength="221.60" lengthAdjust="spacingAndGlyphs" fill="#000">-777.3mg/min</text>
<text x="1190.87" y="2622.20" font-family="'Liberation Sans', Arial, sans-serif" font-weight="bold" font-size="34.14" textLength="87.35" lengthAdjust="spacingAndGlyphs" fill="#000">489.9</text>
<text x="1276.68" y="2619.15" font-family="'Liberation Sans', Arial, sans-serif" font-weight="normal" font-size="38.03" textLength="15.10" lengthAdjust="spacingAndGlyphs" fill="#000">°</text>
<text x="1290.43" y="2622.20" font-family="'Liberation Sans', Arial, sans-serif" font-weight="bold" font-size="34.14" textLength="22.63" lengthAdjust="spacingAndGlyphs" fill="#000">C</text>
<text x="1151.34" y="2666.90" font-family="'Liberation Sans', Arial, sans-serif" font-weight="bold" font-size="33.71" textLength="222.62" lengthAdjust="spacingAndGlyphs" fill="#000">-260.7mg/min</text>
<text x="1370.49" y="2456.50" font-family="'Liberation Sans', Arial, sans-serif" font-weight="bold" font-size="30.86" textLength="60.06" lengthAdjust="spacingAndGlyphs" fill="#000">569</text>
<text x="1429.19" y="2453.20" font-family="'Liberation Sans', Arial, sans-serif" font-weight="normal" font-size="34.37" textLength="13.65" lengthAdjust="spacingAndGlyphs" fill="#000">°</text>
<text x="1441.82" y="2456.50" font-family="'Liberation Sans', Arial, sans-serif" font-weight="bold" font-size="30.86" textLength="20.45" lengthAdjust="spacingAndGlyphs" fill="#000">C</text>
<text x="1349.24" y="2513.50" font-family="'Liberation Sans', Arial, sans-serif" font-weight="bold" font-size="32.00" textLength="222.01" lengthAdjust="spacingAndGlyphs" fill="#000">-126.6mg/min</text>
<text x="1455.98" y="2343.60" font-family="'Liberation Sans', Arial, sans-serif" font-weight="bold" font-size="30.14" textLength="90.09" lengthAdjust="spacingAndGlyphs" fill="#000">606.5</text>
<text x="1545.08" y="2340.24" font-family="'Liberation Sans', Arial, sans-serif" font-weight="normal" font-size="33.57" textLength="13.33" lengthAdjust="spacingAndGlyphs" fill="#000">°</text>
<text x="1557.48" y="2343.60" font-family="'Liberation Sans', Arial, sans-serif" font-weight="bold" font-size="30.14" textLength="19.98" lengthAdjust="spacingAndGlyphs" fill="#000">C</text>
<text x="1443.35" y="2388.50" font-family="'Liberation Sans', Arial, sans-serif" font-weight="bold" font-size="30.00" textLength="201.49" lengthAdjust="spacingAndGlyphs" fill="#000">-44.9mg/min</text>
</svg>
</body></html>
